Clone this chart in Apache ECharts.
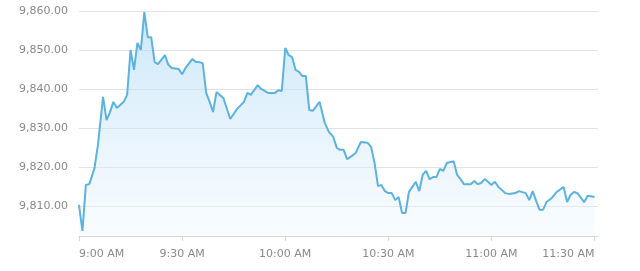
<!DOCTYPE html>
<html><head><meta charset="utf-8">
<script src="https://cdn.jsdelivr.net/npm/echarts@6/dist/echarts.min.js"></script>
<style>html,body{margin:0;padding:0;background:#fff}#c{width:640px;height:271px}</style>
</head><body><div id="c"></div>
<script>
// minutes after 9:00 AM
const minutes = [0,1,2,3,3.6,4.5,5.5,7,8,9,10,11,12,13,14,15,16,17,18,19,20,21,22,23,25,26,27,29,30,31,33,34,35,36,37,38,
  39,40,42,44,46,48,49,50,52,53,55,57,58,59,60,61,62,63,64,65,66,67,68,70,71.5,72.7,74,75,76,77,78,79,80.5,82,84,85,86,87,88,89,90,91,92,93,94,95,96,98,99,100,101,102,103,104,105,106,107,109,110,111,112,114,115,116,117,118,119,120,121,122,124,125,127,128,130,131,132,133,134,135,136,137.5,139,141,142,143,144,145,147,148,150];
const values = [9810.3,9803.6,9815.4,9815.6,9817.2,9819.7,9825.6,9838,9832,9834,9836.7,9835.1,9835.9,9836.7,9838.5,9850,9844.9,9851.8,9850,9859.7,9853.3,9853.3,9846.9,9846.4,9848.7,9846.2,9845.4,9845.1,9843.8,9845.4,9847.7,9846.9,9846.9,9846.6,9839,9836.7,
  9834.1,9839.2,9837.7,9832.3,9834.9,9836.7,9839,9838.5,9841,9840,9839,9839,9839.7,9839.5,9850.5,9848.7,9848.2,9844.9,9844.4,9843.3,9843.3,9834.6,9834.4,9836.7,9831.3,9829,9827.7,9824.9,9824.4,9824.4,9822,9822.6,9823.6,9826.4,9826.2,9825.1,9821,9815.1,9815.4,9813.8,9813.3,9813.3,9811.5,9812.3,9808.2,9808.2,9813.6,9816.2,9813.8,9818,9819,9816.9,9817.4,9817.4,9819.5,9819,9821,9821.5,9818,9816.9,9815.6,9815.6,9816.4,9815.6,9815.9,9816.9,9816.2,9815.4,9816.2,9814.9,9813.3,9813.1,9813.3,9813.8,9813.3,9811.5,9813.8,9811.3,9809,9809,9811,9812,9813.6,9814.9,9811,9812.8,9813.6,9813.3,9811,9812.6,9812.3];
const tickMinutes = [0,30,60,90,120,150];
const tickLabels = ['9:00 AM','9:30 AM','10:00 AM','10:30 AM','11:00 AM','11:30 AM'];
const yTicks = [9810,9820,9830,9840,9850,9860];

const chart = echarts.init(document.getElementById('c'), null, {renderer:'canvas'});
const data = minutes.map((m,i)=>[m, values[i]]);
const fontFamily = 'DejaVu Sans';
chart.setOption({
  animation:false,
  grid:{left:79, right:42, top:11, bottom:35, containLabel:false},
  xAxis:{
    type:'value', min:0, max:151,
    axisLine:{show:true, lineStyle:{color:'#d6d6d6', width:1}},
    axisTick:{show:true, length:5, lineStyle:{color:'#d6d6d6'}, customValues:tickMinutes},
    splitLine:{show:false},
    axisLabel:{customValues:tickMinutes, color:'#8a8a8a', fontSize:11, fontFamily, margin:13,
      alignMinLabel:'left', alignMaxLabel:'right',
      formatter:v=>tickLabels[tickMinutes.indexOf(v)] || ''}
  },
  yAxis:{
    type:'value', min:9802.3, max:9860,
    axisLine:{show:false}, axisTick:{show:false, customValues:yTicks},
    splitLine:{show:true, lineStyle:{color:'#e2e2e2', width:1}},
    axisLabel:{customValues:yTicks, color:'#8a8a8a', fontSize:11, fontFamily, margin:11,
      formatter:v=>v.toLocaleString('en-US',{minimumFractionDigits:2, maximumFractionDigits:2})}
  },
  series:[{
    type:'line', data, showSymbol:false, symbol:'none',
    lineStyle:{color:'#5cb3e0', width:2},
    areaStyle:{color:new echarts.graphic.LinearGradient(0,0,0,1,[
      {offset:0, color:'rgba(170,214,245,0.85)'},
      {offset:1, color:'rgba(240,248,254,0.6)'}])}
  }]
});
</script></body></html>
